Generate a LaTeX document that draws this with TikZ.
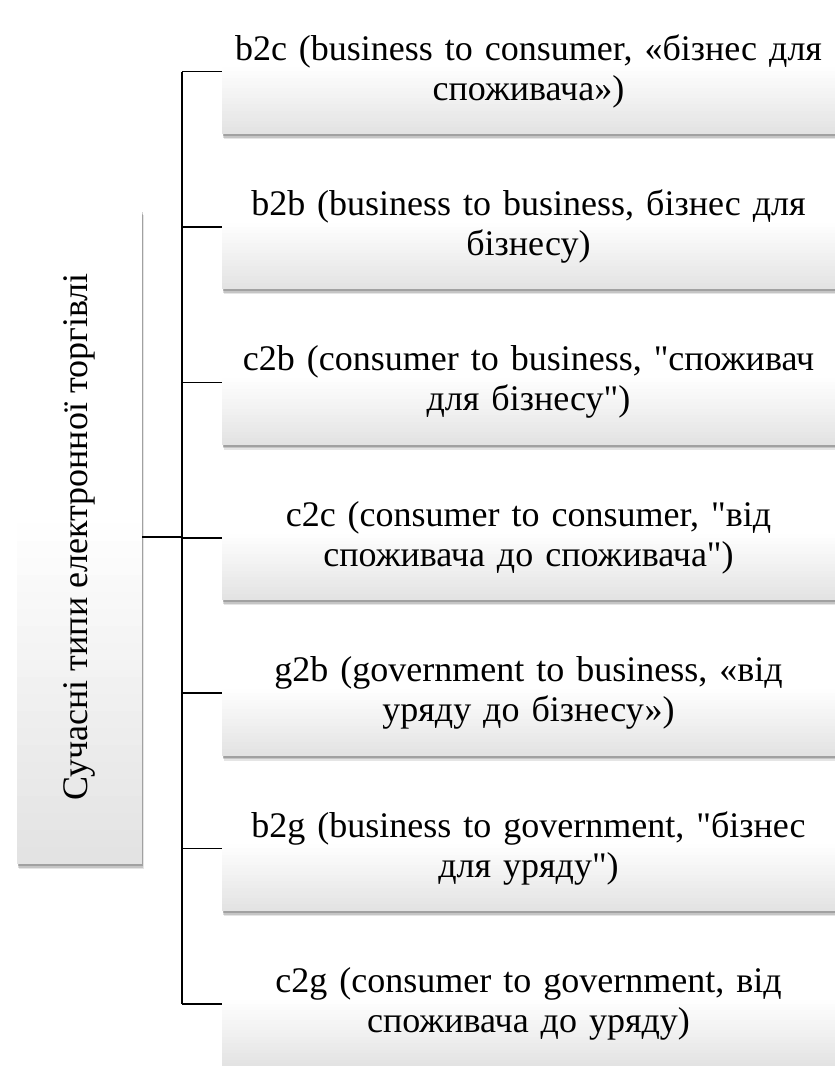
\documentclass[tikz,border=0pt]{standalone}
\usepackage{fontspec}
\setmainfont{Liberation Serif}
\usetikzlibrary{shadows}
\colorlet{boxbottom}{gray!22}
\begin{document}
\begin{tikzpicture}[x=1pt,y=1pt,
  boxbase/.style={draw=none, fill=white,
    path picture={\foreach \k [evaluate=\k as \p using {int(100-5*\k)}] in {0,...,19}
      {\fill[boxbottom!\p!white] ([yshift={\k*#1/20*1pt}]path picture bounding box.south west)
        rectangle ([yshift={(\k+1)*#1/20*1pt+0.6pt}]path picture bounding box.south east);}},
    drop shadow={fill=black, opacity=0.10, shadow xshift=1.5pt, shadow yshift=-5pt},
    drop shadow={fill=black, opacity=0.14, shadow xshift=1pt, shadow yshift=-3.5pt},
    drop shadow={fill=black, opacity=0.18, shadow xshift=0.5pt, shadow yshift=-2pt},
    inner sep=0pt, font=\fontsize{36}{40}\selectfont, align=center},
  rbox/.style={boxbase=66, minimum width=613pt, minimum height=125pt, text width=610pt},
  lbox/.style={boxbase=340, minimum width=125pt, minimum height=654pt},
  conn/.style={draw=black, line width=1.6pt}]
\useasboundingbox (0,0) rectangle (835,-1066);
\node[lbox] (L) at (79.5,-537) {\rotatebox{90}{Сучасні типи електронної торгівлі}};
\node[rbox] (b1) at (528.5,-71.5) {b2c (business to consumer, «бізнес для\\ споживача»)};
\node[rbox] (b2) at (528.5,-226.9) {b2b (business to business, бізнес для\\ бізнесу)};
\node[rbox] (b3) at (528.5,-382.3) {c2b (consumer to business, \textquotedbl споживач\\ для бізнесу\textquotedbl)};
\node[rbox] (b4) at (528.5,-537.7) {c2c (consumer to consumer, \textquotedbl від\\ споживача до споживача\textquotedbl)};
\node[rbox] (b5) at (528.5,-693.1) {g2b (government to business, «від\\ уряду до бізнесу»)};
\node[rbox] (b6) at (528.5,-848.5) {b2g (business to government, \textquotedbl бізнес\\ для уряду\textquotedbl)};
\node[rbox] (b7) at (528.5,-1003.9) {c2g (consumer to government, від\\ споживача до уряду)};
\coordinate (bus) at (182,0);
\draw[conn] (b1.west -| bus) -- (b7.west -| bus);
\foreach \i in {1,...,7} {\draw[conn] (b\i.west) -- (b\i.west -| bus);}
\draw[conn] (L.east) -- (L.east -| bus);
\end{tikzpicture}
\end{document}
